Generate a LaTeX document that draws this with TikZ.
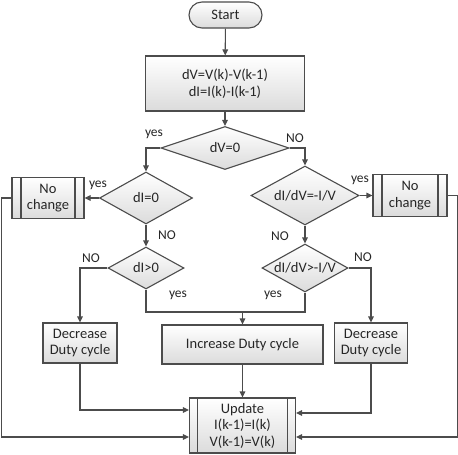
\documentclass[tikz,border=0pt]{standalone}
\usepackage{fontspec}
\setmainfont{Carlito}
\usetikzlibrary{shapes.geometric,arrows.meta}

\newcommand{\thin}[1]{\makebox[0pt]{#1}}

\tikzset{
  line/.style={draw=black!70,line width=1.1pt},
  arr/.style={line,-{Triangle[length=6pt,width=5.5pt]}},
  shade/.style={line,top color=white,bottom color=black!14,text=black!85,
    font=\fontsize{14.5}{16.5}\selectfont,align=center,inner sep=0pt},
  procbox/.style={shade,rectangle},
  decbox/.style={shade,diamond},
  predef/.style={procbox,path picture={
      \draw[black!70,line width=1.1pt]
        ([xshift=#1]path picture bounding box.north west) --
        ([xshift=#1]path picture bounding box.south west)
        ([xshift=-#1]path picture bounding box.north east) --
        ([xshift=-#1]path picture bounding box.south east);}},
  tag/.style={text=black!85,font=\fontsize{13.5}{15}\selectfont,inner sep=0pt}
}

\begin{document}
\begin{tikzpicture}[x=1pt,y=-1pt]
  \useasboundingbox (0,0) rectangle (458,455);

  % boxes and decisions
  \node[procbox,rounded corners=13pt,minimum width=73pt,minimum height=26pt] (start) at (225.5,15) {Start};
  \node[procbox,minimum width=159pt,minimum height=55pt] (calc) at (225,83.5) {dV=V(k)-V(k-1)\\dI=I(k)-I(k-1)};
  \node[decbox,minimum width=128pt,minimum height=43pt] (dv0) at (225,148) {\thin{dV=0}};
  \node[decbox,minimum width=93pt,minimum height=52pt] (di0) at (146,198) {\thin{dI=0}};
  \node[decbox,minimum width=108pt,minimum height=59pt] (inc0) at (305,195.5) {\thin{dI/dV=-I/V}};
  \node[predef=9pt,minimum width=72pt,minimum height=41pt] (nc1) at (48,198) {No\\change};
  \node[predef=9pt,minimum width=74pt,minimum height=42pt] (nc2) at (410,195.5) {No\\change};
  \node[decbox,minimum width=76pt,minimum height=42pt] (dipos) at (146,268) {\thin{dI>0}};
  \node[decbox,minimum width=86pt,minimum height=48pt] (incpos) at (305,268) {\thin{dI/dV>-I/V}};
  \node[procbox,minimum width=74pt,minimum height=40pt] (dec1) at (80,343) {Decrease\\Duty cycle};
  \node[procbox,minimum width=161pt,minimum height=39pt] (inc) at (242.5,344.5) {Increase Duty cycle};
  \node[procbox,minimum width=73pt,minimum height=40pt] (dec2) at (371,343) {Decrease\\Duty cycle};
  \node[predef=8pt,minimum width=106pt,minimum height=55pt] (upd) at (242.5,425.5) {Update\\I(k-1)=I(k)\\V(k-1)=V(k)};
  \coordinate (mrg) at (242.5,312);

  % connectors
  \draw[arr] (start) -- (calc);
  \draw[arr] (calc) -- (dv0);
  \draw[arr] (dv0.west) -| (di0.north);
  \draw[arr] (dv0.east) -| (inc0.north);
  \draw[arr] (di0.west) -- (nc1.east);
  \draw[arr] (inc0.east) -- (nc2.west);
  \draw[arr] (di0) -- (dipos);
  \draw[arr] (inc0) -- (incpos);
  \draw[arr] (dipos.west) -| (dec1.north);
  \draw[arr] (incpos.east) -| (dec2.north);
  \draw[line] (dipos.south) |- (mrg) -| (incpos.south);
  \draw[arr] (mrg) -- (inc);
  \draw[arr] (inc) -- (upd);
  \draw[arr] (dec1.south) |- ([yshift=15.5pt]upd.west);
  \draw[arr] (dec2.south) |- ([yshift=12.5pt]upd.east);
  \draw[arr] (nc1.west) -- ++(-10,0) |- ([yshift=-11.5pt]upd.west);
  \draw[arr] (nc2.east) -- ++(10,0) |- ([yshift=-11.5pt]upd.east);

  % branch labels
  \node[tag] (t1) at (154,134) {yes};
  \node[tag] (t2) at (295,138) {NO};
  \node[tag] (t3) at (98,185) {yes};
  \node[tag] (t4) at (167,235) {NO};
  \node[tag] (t5) at (91,258) {NO};
  \node[tag] (t6) at (178,295) {yes};
  \node[tag] (t7) at (360,180) {yes};
  \node[tag] (t8) at (280,236) {NO};
  \node[tag] (t9) at (363,257) {NO};
  \node[tag] (t10) at (273,295) {yes};
\end{tikzpicture}
\end{document}
